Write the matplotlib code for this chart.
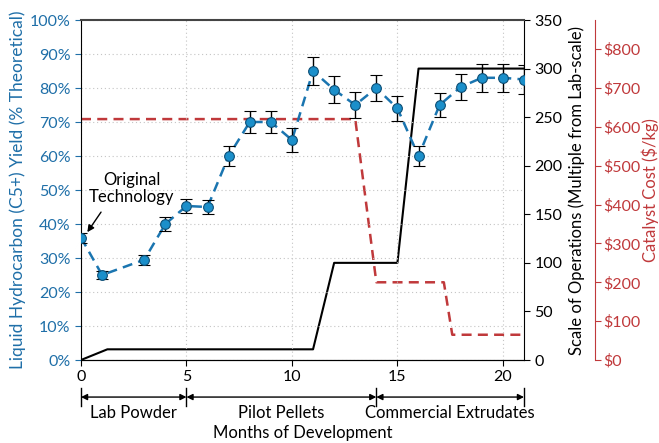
import matplotlib
matplotlib.use("Agg")
import matplotlib.pyplot as plt
from matplotlib.ticker import FuncFormatter
import matplotlib.transforms as mtransforms

plt.rcParams['font.family'] = ['Lato', 'DejaVu Sans']
plt.rcParams['font.size'] = 12

# yield data (% theoretical)
months = [0, 1, 3, 4, 5, 6, 7, 8, 9, 10, 11, 12, 13, 14, 15, 16, 17, 18, 19, 20, 21]
yield_pct = [36, 25, 29.5, 40, 45.3, 45, 60, 70, 70, 64.7, 85, 79.5, 75, 80, 74, 60, 75, 80.3, 83, 83, 82.5]
yield_err = [1.5, 1.3, 1.5, 2, 2, 2, 3, 3.3, 3.3, 3.4, 4, 4, 3.7, 3.8, 3.6, 3, 3.6, 3.8, 4.2, 4.2, 4.2]

# scale of operations
scale_months = [0, 1.25, 11, 12, 15, 16, 21]
scale_vals = [0, 11, 11, 100, 100, 300, 300]

# catalyst cost
cost_months = [0, 13, 14, 17.2, 17.6, 21]
cost_vals = [620, 620, 200, 200, 65, 65]

phase_edges = [0, 5, 14, 21]
phase_names = ["Lab Powder", "Pilot Pellets", "Commercial Extrudates"]

BLUE_TXT = "#1f6fa8"
BLUE_LINE = "#1a75b0"
BLUE_FILL = "#1b8fca"
RED = "#c0393b"
TICK_FS = 11.5

fig = plt.figure(figsize=(6.59, 4.43), dpi=100)
ax = fig.add_axes([81 / 659, 1 - 360 / 443, (524 - 81) / 659, 340 / 443])
ax2 = ax.twinx()
ax3 = ax.twinx()

# yield
ax.errorbar(months, yield_pct, yerr=yield_err, fmt="o", color=BLUE_LINE, ecolor="black",
            elinewidth=1.0, capsize=4, capthick=1.0, ms=7, mfc=BLUE_FILL, mec="#0d4e75",
            mew=0.8, zorder=5)
ax.plot(months, yield_pct, ls=(0, (4, 2.5)), color=BLUE_LINE, lw=1.8, zorder=4)
ax.set_xlim(0, 21)
ax.set_ylim(0, 100)
ax.set_yticks(range(0, 101, 10))
ax.yaxis.set_major_formatter(FuncFormatter(lambda v, p: f"{int(v)}%"))
ax.set_xticks([0, 5, 10, 15, 20])
ax.tick_params(axis="y", colors=BLUE_TXT, labelsize=TICK_FS, length=4, direction="out")
ax.tick_params(axis="x", labelsize=TICK_FS, length=4, direction="out")
ax.set_ylabel("Liquid Hydrocarbon (C5+) Yield (% Theoretical)", color=BLUE_TXT, fontsize=12.5, labelpad=3)
ax.set_xlabel("Months of Development", fontsize=12)
ax.xaxis.set_label_coords(0.5, -0.19)
ax.grid(True, ls=(0, (1, 2.5)), color="#c4c4c4", lw=0.8)
ax.spines["top"].set_color("#444444")
ax.spines["top"].set_linewidth(1.5)
ax.spines["right"].set_visible(False)

# scale of operations
ax2.plot(scale_months, scale_vals, color="black", lw=1.5, zorder=3)
ax2.set_ylim(0, 350)
ax2.set_yticks(range(0, 351, 50))
ax2.tick_params(axis="y", labelsize=TICK_FS, length=4)
ax2.set_ylabel("Scale of Operations (Multiple from Lab-scale)", fontsize=12, labelpad=4)
ax2.spines["top"].set_visible(False)
ax2.spines["left"].set_visible(False)

# catalyst cost
ax3.plot(cost_months, cost_vals, color=RED, lw=1.8, ls=(0, (4, 2.5)), zorder=3)
ax3.set_ylim(0, 875)
ax3.set_yticks(range(0, 801, 100))
ax3.yaxis.set_major_formatter(FuncFormatter(lambda v, p: f"${int(v)}"))
ax3.spines["right"].set_position(("outward", 51))
ax3.spines["right"].set_color(RED)
for s in ["top", "left", "bottom"]:
    ax3.spines[s].set_visible(False)
ax3.tick_params(axis="y", colors=RED, labelsize=TICK_FS, length=4, pad=2)
ax3.set_ylabel("Catalyst Cost ($/kg)", color=RED, fontsize=12, labelpad=1)

ax.set_zorder(ax3.get_zorder() + 1)
ax.patch.set_visible(False)
ax2.set_zorder(ax3.get_zorder() + 0.5)

# annotation for original technology
ax.text(2.4, 50.5, "Original\nTechnology", ha="center", va="center", fontsize=12, linespacing=1.1)
ax.annotate("", xy=(0.3, 37.6), xytext=(0.95, 43.5),
            arrowprops=dict(arrowstyle="-|>", color="black", lw=1, shrinkA=0, shrinkB=0,
                            mutation_scale=10))

# phase brackets under the x axis
trans = mtransforms.blended_transform_factory(ax.transData, ax.transAxes)
ya = -0.109
for x in phase_edges:
    ax.plot([x, x], [ya + 0.027, ya - 0.027], color="black", lw=1, transform=trans, clip_on=False)
for i, name in enumerate(phase_names):
    x0, x1 = phase_edges[i], phase_edges[i + 1]
    ax.annotate("", xy=(x0, ya), xytext=(x1, ya), xycoords=trans, textcoords=trans,
                arrowprops=dict(arrowstyle="<|-|>", color="black", lw=1, shrinkA=0, shrinkB=0,
                                mutation_scale=9))
    ax.text((x0 + x1) / 2, ya - 0.047, name, transform=trans, ha="center", va="center",
            fontsize=12)

fig.savefig("out.png", dpi=100)
